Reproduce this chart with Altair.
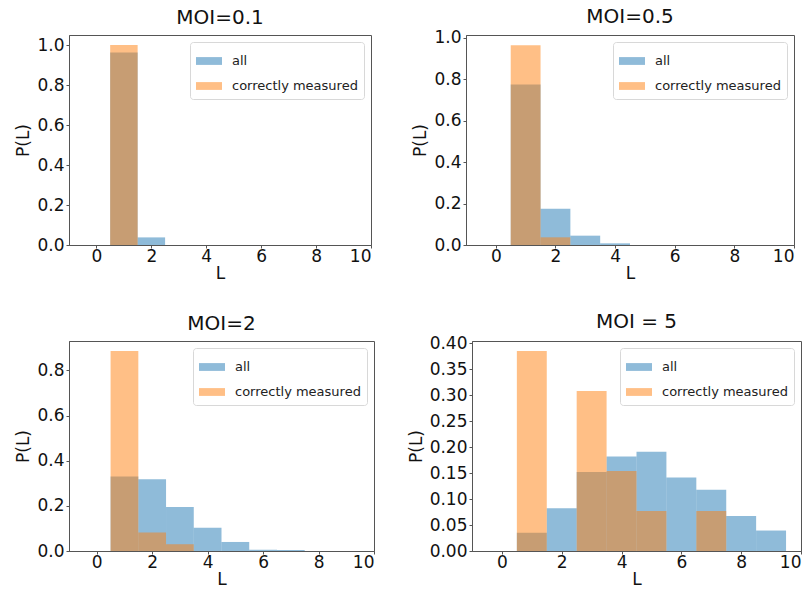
import altair as alt
import pandas as pd

# ---- data ----
L_VALUES = [1, 2, 3, 4, 5, 6, 7, 8, 9]
SERIES = ["all", "correctly measured"]
TITLES = ["MOI=0.1", "MOI=0.5", "MOI=2", "MOI = 5"]

ALL_01 = [0.962, 0.038, 0, 0, 0, 0, 0, 0, 0]
CORRECT_01 = [1.0, 0, 0, 0, 0, 0, 0, 0, 0]

ALL_05 = [0.774, 0.175, 0.045, 0.008, 0, 0, 0, 0, 0]
CORRECT_05 = [0.963, 0.037, 0, 0, 0, 0, 0, 0, 0]

ALL_2 = [0.330, 0.318, 0.195, 0.103, 0.040, 0.006, 0.004, 0, 0]
CORRECT_2 = [0.886, 0.082, 0.030, 0, 0, 0, 0, 0, 0]

ALL_5 = [0.035, 0.0825, 0.152, 0.182, 0.191, 0.1416, 0.118, 0.0673, 0.0394]
CORRECT_5 = [0.385, 0, 0.308, 0.154, 0.077, 0, 0.077, 0, 0]

Y_MAX = [1.05, 1.013, 0.93, 0.4044]
Y_TICKS = [[0, 0.2, 0.4, 0.6, 0.8, 1.0],
           [0, 0.2, 0.4, 0.6, 0.8, 1.0],
           [0, 0.2, 0.4, 0.6, 0.8],
           [0, 0.05, 0.10, 0.15, 0.20, 0.25, 0.30, 0.35, 0.40]]
Y_FORMATS = [".1f", ".1f", ".1f", ".2f"]
X_TICKS = [0, 2, 4, 6, 8, 10]

# panel sizes (plot area) and title offsets (top y label of panels 2/4 sits near the frame)
SIZES = [(302, 210), (328, 210), (305, 210), (329, 210)]
TITLE_OFFSETS = [7, 2, 7, 2]

FONT = "DejaVu Sans"
COLORS = ["#1f77b4", "#ff7f0e"]


def make_df(all_vals, correct_vals):
    rows = []
    for s, vals in zip(SERIES, [all_vals, correct_vals]):
        for L, v in zip(L_VALUES, vals):
            rows.append({"series": s, "L0": L - 0.5, "L1": L + 0.5, "P": v, "P0": 0.0})
    return pd.DataFrame(rows)


def panel(i, all_vals, correct_vals):
    w, h = SIZES[i]
    df = make_df(all_vals, correct_vals)
    return alt.Chart(df).mark_rect(opacity=0.5).encode(
        x=alt.X("L0:Q", scale=alt.Scale(domain=[-1, 10], nice=False, zero=False),
                axis=alt.Axis(title="L", values=X_TICKS, format="d")),
        x2="L1:Q",
        y=alt.Y("P:Q", scale=alt.Scale(domain=[0, Y_MAX[i]], nice=False),
                axis=alt.Axis(title="P(L)", values=Y_TICKS[i], format=Y_FORMATS[i])),
        y2="P0:Q",
        color=alt.Color("series:N",
                        scale=alt.Scale(domain=SERIES, range=COLORS),
                        legend=alt.Legend(title=None, orient="top-right", offset=7,
                                          symbolType="M-1,-0.3L1,-0.3L1,0.3L-1,0.3Z",
                                          symbolSize=676, symbolOpacity=0.5,
                                          symbolStrokeWidth=0, labelOffset=10,
                                          labelFontSize=13, labelFont=FONT,
                                          labelColor="#222",
                                          strokeColor="#d8d8d8", cornerRadius=3,
                                          padding=6, rowPadding=5,
                                          fillColor="white")),
        order=alt.Order("series:N"),
    ).properties(width=w, height=h,
                 title=alt.TitleParams(TITLES[i], fontSize=20, font=FONT,
                                       fontWeight="normal", anchor="middle",
                                       frame="group", offset=TITLE_OFFSETS[i],
                                       color="#111"))


p1 = panel(0, ALL_01, CORRECT_01)
p2 = panel(1, ALL_05, CORRECT_05)
p3 = panel(2, ALL_2, CORRECT_2)
p4 = panel(3, ALL_5, CORRECT_5)

row1 = alt.hconcat(p1, p2, spacing=39).resolve_legend(color="independent")
row2 = alt.hconcat(p3, p4, spacing=31).resolve_legend(color="independent")

chart = alt.vconcat(row1, row2, spacing=29).resolve_legend(
    color="independent"
).properties(
    padding={"left": 6, "top": -2, "right": 0, "bottom": 0}
).configure_view(stroke="#555", strokeWidth=1).configure_axis(
    labelFont=FONT, titleFont=FONT, labelFontSize=17, titleFontSize=17,
    titleFontWeight="normal", labelColor="#111", titleColor="#111",
    domainColor="#555", tickColor="#555", tickSize=3,
    grid=False, titlePadding=1
).configure_axisX(labelPadding=0).configure_axisY(labelPadding=2, titlePadding=4)

chart.save("out.html", embed_options={"renderer": "svg", "actions": False})
